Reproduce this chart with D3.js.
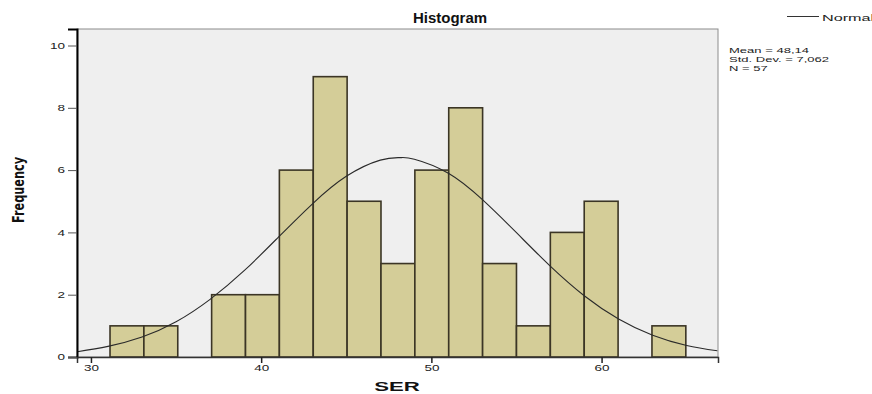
<!DOCTYPE html>
<html>
<head>
<meta charset="utf-8">
<script src="https://cdn.jsdelivr.net/npm/d3@7"></script>
<style>
  body { margin: 0; background: #fff; }
  svg { display: block; font-family: "Liberation Sans", Arial, sans-serif; }
</style>
</head>
<body>
<svg id="chart" width="872" height="394"></svg>
<script>
// histogram counts, one per bin (bin width ~1.99 starting at ~31.12)
const counts = [1, 1, 0, 2, 2, 6, 9, 5, 3, 6, 8, 3, 1, 4, 5, 0, 1];
const binStart = 31.12;
const binWidth = 1.99;

const xTicks = [30, 40, 50, 60];
const yTicks = [0, 2, 4, 6, 8, 10];

// normal curve
const curveX = [29.2, 31, 33, 35, 37, 39, 41, 43, 45, 47, 48.14, 49, 51, 53, 55, 57, 59, 61, 63, 65, 66.8];
const curveY = [0.17, 0.34, 0.64, 1.13, 1.85, 2.77, 3.84, 4.91, 5.80, 6.32, 6.40, 6.35, 5.90, 5.05, 3.99, 2.91, 1.96, 1.22, 0.70, 0.37, 0.20];

const statLines = ["Mean = 48,14", "Std. Dev. = 7,062", "N = 57"];

const WIDTH = 872, HEIGHT = 394;
const MARGIN = { top: 29, right: 154, bottom: 37, left: 77 };

const svg = d3.select("#chart");

const x = d3.scaleLinear()
  .domain([29.18, 66.84])
  .range([MARGIN.left, WIDTH - MARGIN.right]);

const y = d3.scaleLinear()
  .domain([0, 10.53])
  .range([HEIGHT - MARGIN.bottom, MARGIN.top]);

// stretch text horizontally like the original export
function stretch(sel, f) {
  sel.each(function() {
    const w = this.getComputedTextLength();
    d3.select(this).attr("textLength", w * f).attr("lengthAdjust", "spacingAndGlyphs");
  });
}

// plot background
svg.append("rect")
  .attr("x", MARGIN.left)
  .attr("y", MARGIN.top)
  .attr("width", x.range()[1] - MARGIN.left)
  .attr("height", y.range()[0] - MARGIN.top)
  .attr("fill", "#efefef")
  .attr("stroke", "#8c8c8c")
  .attr("stroke-width", 1);

// bars
svg.append("g")
  .selectAll("rect")
  .data(counts.map((c, i) => ({ c, x0: binStart + i * binWidth })).filter(d => d.c > 0))
  .enter()
  .append("rect")
  .attr("x", d => x(d.x0))
  .attr("width", d => x(d.x0 + binWidth) - x(d.x0))
  .attr("y", d => y(d.c))
  .attr("height", d => y(0) - y(d.c))
  .attr("fill", "#d4cd98")
  .attr("stroke", "#3b3525")
  .attr("stroke-width", 1.6);

// normal curve
const line = d3.line()
  .x(d => x(d[0]))
  .y(d => y(d[1]))
  .curve(d3.curveNatural);

svg.append("path")
  .attr("fill", "none")
  .attr("stroke", "#2a2a2a")
  .attr("stroke-width", 1.1)
  .attr("d", line(curveX.map((v, i) => [v, curveY[i]])));

// axes
const yAxis = svg.append("g")
  .attr("transform", "translate(" + MARGIN.left + ",0)")
  .call(d3.axisLeft(y).tickValues(yTicks).tickSize(9).tickPadding(3));
yAxis.select(".domain").attr("stroke", "#000").attr("stroke-width", 2);
yAxis.selectAll(".tick line").attr("stroke", "#555");
yAxis.selectAll(".tick text")
  .attr("font-size", 9)
  .attr("fill", "#222")
  .call(stretch, 1.5);

const xAxis = svg.append("g")
  .attr("transform", "translate(0," + y(0) + ")")
  .call(d3.axisBottom(x).tickValues(xTicks).tickSize(6).tickPadding(2));
xAxis.select(".domain").attr("stroke", "#333").attr("stroke-width", 1.5);
xAxis.selectAll(".tick line").attr("stroke", "#222").attr("stroke-width", 1.5);
xAxis.selectAll(".tick text")
  .attr("font-size", 9)
  .attr("fill", "#222")
  .call(stretch, 1.5);

// title
svg.append("text")
  .attr("x", 450)
  .attr("y", 23)
  .attr("text-anchor", "middle")
  .attr("font-size", 15)
  .attr("font-weight", "bold")
  .attr("fill", "#111")
  .text("Histogram");

// axis titles
svg.append("text")
  .attr("x", 397)
  .attr("y", 391)
  .attr("text-anchor", "middle")
  .attr("font-size", 12)
  .attr("font-weight", "bold")
  .attr("fill", "#111")
  .text("SER")
  .call(stretch, 1.85);

svg.append("text")
  .attr("transform", "translate(23.5,190) rotate(-90)")
  .attr("text-anchor", "middle")
  .attr("font-family", "'Liberation Sans Narrow', 'DejaVu Sans Condensed', sans-serif")
  .attr("font-size", 15)
  .attr("font-weight", "bold")
  .attr("fill", "#111")
  .text("Frequency")
  .call(function(sel) { sel.attr("textLength", 66).attr("lengthAdjust", "spacingAndGlyphs"); });

// legend
svg.append("line")
  .attr("x1", 787).attr("x2", 819)
  .attr("y1", 16.5).attr("y2", 16.5)
  .attr("stroke", "#333")
  .attr("stroke-width", 1);
svg.append("text")
  .attr("x", 822)
  .attr("y", 20.5)
  .attr("font-size", 9)
  .attr("fill", "#222")
  .text("Normal")
  .call(stretch, 1.8);

// stats
svg.append("g")
  .selectAll("text")
  .data(statLines)
  .enter()
  .append("text")
  .attr("x", 729)
  .attr("y", (d, i) => 52.5 + i * 9)
  .attr("font-size", 7.8)
  .attr("fill", "#222")
  .text(d => d)
  .call(stretch, 1.67);
</script>
</body>
</html>
